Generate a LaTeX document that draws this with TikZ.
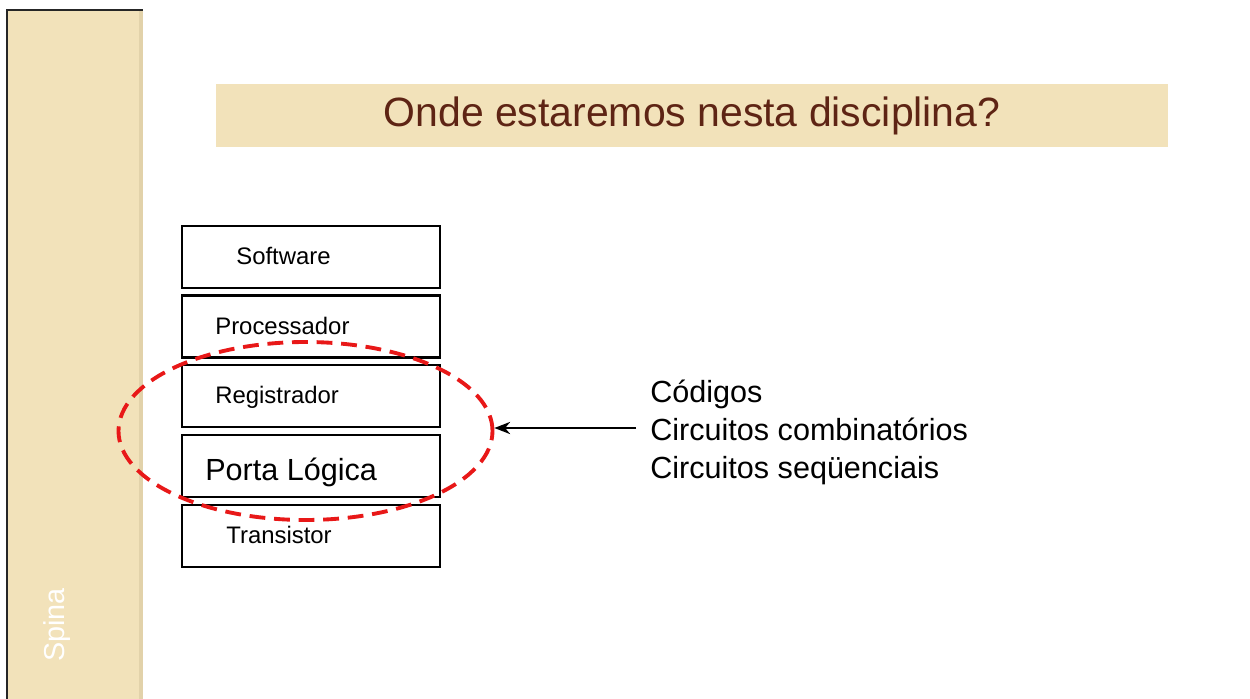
\documentclass[tikz,border=0pt]{standalone}
\usepackage{fontspec}
\setmainfont{Liberation Sans}
\usetikzlibrary{arrows.meta,shapes.geometric}
\definecolor{tan}{RGB}{242,226,186}
\definecolor{tanedge}{RGB}{226,210,170}
\definecolor{titlebrown}{RGB}{94,36,20}
\definecolor{dashred}{RGB}{232,24,24}
\tikzset{
  layerbox/.style={draw=black, line width=1.2pt, minimum width=258*0.02cm, minimum height=62*0.02cm, inner sep=0pt},
  layertext/.style={anchor=base west, inner sep=0pt, font=\fontsize{13.6pt}{16pt}\selectfont},
  listtext/.style={anchor=base west, inner sep=0pt, font=\fontsize{17.4pt}{20pt}\selectfont},
}
\begin{document}
\begin{tikzpicture}[x=0.02cm, y=-0.02cm]
\useasboundingbox (0,0) rectangle (1250,699);
\fill[white] (0,0) rectangle (1250,699);
% left bar
\fill[tan] (7,10) rectangle (143,699);
\fill[tanedge] (139,10) rectangle (143,699);
\draw[black!85, line width=0.8pt] (7,699) -- (7,10) -- (143,10);
\node[rotate=90, text=white, inner sep=0pt, font=\fontsize{16.4pt}{18pt}\selectfont] (spina) at (57,625) {Spina};
% title band
\fill[tan] (216,84) rectangle (1168,147);
\node[text=titlebrown, inner sep=0pt, font=\fontsize{23.3pt}{26pt}\selectfont] (title) at (692,116) {Onde estaremos nesta disciplina?};
% boxes
\node[layerbox] (software) at (311,257) {};
\node[layerbox] (processador) at (311,326.5) {};
\node[layerbox] (registrador) at (311,396) {};
\node[layerbox] (porta) at (311,466) {};
\node[layerbox] (transistor) at (311,536) {};
\node[layertext] (tsoftware) at (236,264) {Software};
\node[layertext] (tprocessador) at (215,334) {Processador};
\node[layertext] (tregistrador) at (215,403.5) {Registrador};
\node[layertext, font=\fontsize{17.4pt}{20pt}\selectfont] (tporta) at (205,480) {Porta Lógica};
\node[layertext] (ttransistor) at (226,543.5) {Transistor};
% ellipse
\node[ellipse, draw=dashred, line width=2.2pt, dash pattern=on 9pt off 5pt, minimum width=374*0.02cm, minimum height=178*0.02cm, inner sep=0pt] (oval) at (305.5,431) {};
% list
\node[listtext] (codigos) at (650,402) {Códigos};
\node[listtext] (comb) at (650,440) {Circuitos combinatórios};
\node[listtext] (seq) at (650,478) {Circuitos seqüenciais};
\coordinate (arrstart) at (636,428);
\draw[-{Stealth[length=9pt,width=7pt]}, line width=0.9pt] (arrstart) -- (arrstart -| oval.east);
\end{tikzpicture}
\end{document}
